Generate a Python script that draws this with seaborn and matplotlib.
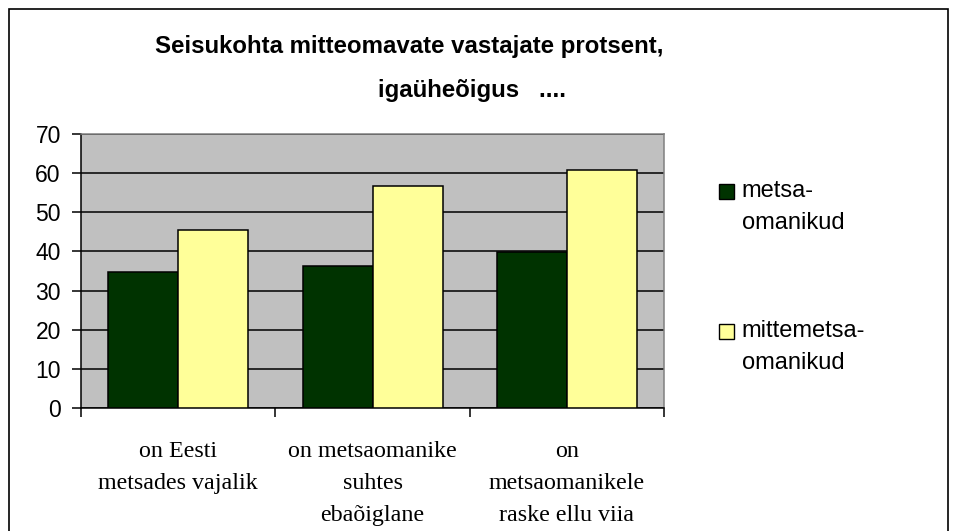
import pandas as pd
import seaborn as sns
import matplotlib.pyplot as plt
from matplotlib.patches import Rectangle
from matplotlib.legend_handler import HandlerPatch

# data
categories = ["on Eesti\nmetsades vajalik",
              "on metsaomanike\nsuhtes\nebaõiglane",
              "on\nmetsaomanikele\nraske ellu viia"]
groups = ["metsa-\nomanikud", "mittemetsa-\nomanikud"]
metsaomanikud = [34.7, 36.2, 39.8]
mittemetsaomanikud = [45.4, 56.7, 60.7]
yticks = [0, 10, 20, 30, 40, 50, 60, 70]

df = pd.DataFrame({
    "kategooria": categories * 2,
    "grupp": [groups[0]] * 3 + [groups[1]] * 3,
    "protsent": metsaomanikud + mittemetsaomanikud,
})

sns.set_theme(style="white", rc={"text.color": "black", "xtick.color": "black",
                                 "ytick.color": "black", "axes.labelcolor": "black"})
plt.rcParams["font.family"] = ["Liberation Sans", "DejaVu Sans"]

fig = plt.figure(figsize=(9.57, 5.31), dpi=100)
ax = fig.add_axes([0.0846, 0.2316, 0.6094, 0.516])

sns.barplot(data=df, x="kategooria", y="protsent", hue="grupp",
            palette=["#003300", "#FFFF99"], saturation=1, width=0.72, gap=0,
            edgecolor="black", linewidth=1.1, ax=ax, legend=True, zorder=3)

ax.set_facecolor("#C0C0C0")
ax.set_ylim(0, 70)
ax.set_xlim(-0.5, 2.5)
ax.set_yticks(yticks)
ax.yaxis.grid(True, color="black", linewidth=1.1, zorder=1)
ax.set_axisbelow(True)
ax.set_xlabel("")
ax.set_ylabel("")
ax.tick_params(axis="y", labelsize=16.5, length=6.5, width=1.1,
               direction="out", left=True, pad=8)
ax.set_xticks([-0.5, 0.5, 1.5, 2.5])
ax.set_xticklabels([])
ax.tick_params(axis="x", length=6.5, width=1.1, direction="out", bottom=True)
for i, lab in enumerate(categories):
    ax.text(i, -8.4, lab, ha="center", va="top", fontsize=17.3,
            family=["Liberation Serif"], linespacing=1.68)

for side in ["left", "bottom"]:
    ax.spines[side].set_color("black")
    ax.spines[side].set_linewidth(1.1)
for side in ["top", "right"]:
    ax.spines[side].set_color("#808080")
    ax.spines[side].set_linewidth(1.1)


# legend square sits next to the first line of the label
def top_square(legend, orig_handle, xdescent, ydescent, width, height, fontsize):
    s = 10.5
    return Rectangle((-xdescent, -ydescent + height - s + 4), s, s)


handles, labels = ax.get_legend_handles_labels()
leg = ax.legend(handles, labels, loc="upper left", bbox_to_anchor=(1.058, 0.908),
                frameon=False, fontsize=17, handlelength=0.62, handleheight=2.0,
                handletextpad=0.33, labelspacing=3.66,
                handler_map={type(handles[0]): HandlerPatch(patch_func=top_square)})
for t in leg.get_texts():
    t.set_linespacing(1.55)
for h in leg.legend_handles:
    h.set_edgecolor("black")
    h.set_linewidth(1.0)

fig.text(0.428, 0.9115, "Seisukohta mitteomavate vastajate protsent,",
         ha="center", va="center", fontsize=17.3, fontweight="bold")
fig.text(0.493, 0.8305, "igaüheõigus   ....", ha="center", va="center",
         fontsize=17.3, fontweight="bold")

fig.patches.append(Rectangle((0.0094, -0.01), 0.981, 0.993,
                             transform=fig.transFigure, fill=False,
                             edgecolor="black", linewidth=1.2))

fig.savefig("out.png", dpi=100, facecolor="white")
